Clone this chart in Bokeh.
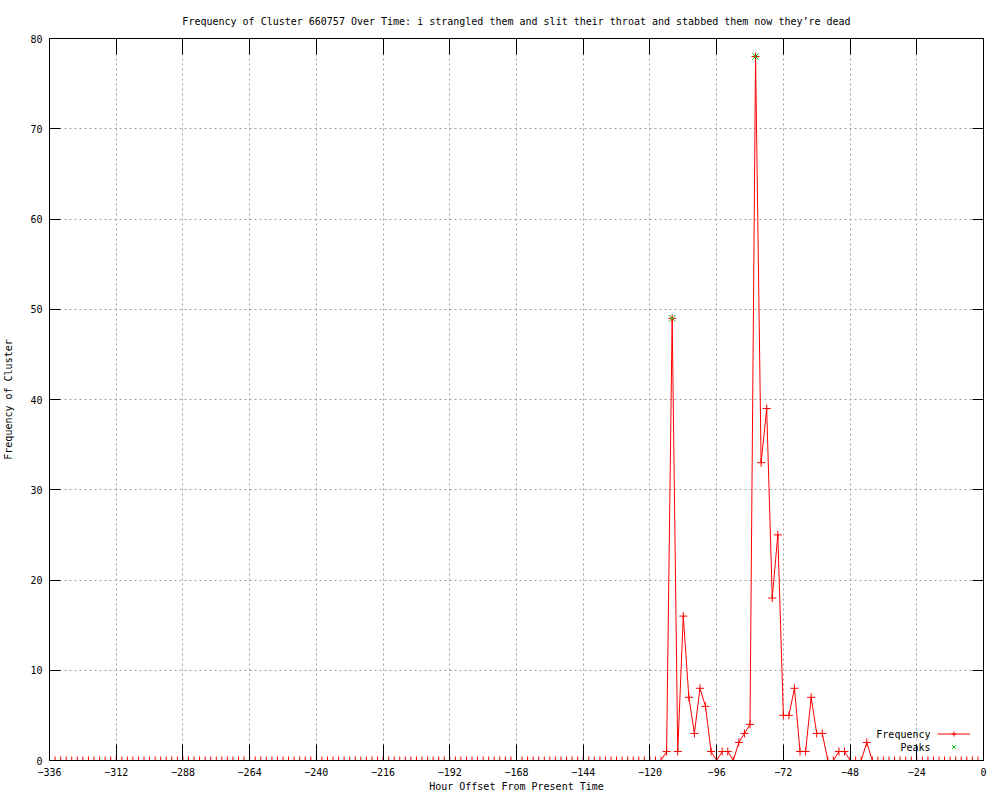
from bokeh.plotting import figure
from bokeh.models import (LinearAxis, FixedTicker, Range1d, Legend, LegendItem,
                          Label, ColumnDataSource, CustomJSTickFormatter)
from bokeh.embed import file_html
from bokeh.resources import INLINE

# ---------------- data ----------------
hours = list(range(-336, 1, 2))
frequency = [
    0, 0, 0, 0, 0, 0, 0, 0, 0, 0, 0, 0, 0, 0, 0, 0, 0, 0, 0, 0,   # -336 .. -298
    0, 0, 0, 0, 0, 0, 0, 0, 0, 0, 0, 0, 0, 0, 0, 0, 0, 0, 0, 0,   # -296 .. -258
    0, 0, 0, 0, 0, 0, 0, 0, 0, 0, 0, 0, 0, 0, 0, 0, 0, 0, 0, 0,   # -256 .. -218
    0, 0, 0, 0, 0, 0, 0, 0, 0, 0, 0, 0, 0, 0, 0, 0, 0, 0, 0, 0,   # -216 .. -178
    0, 0, 0, 0, 0, 0, 0, 0, 0, 0, 0, 0, 0, 0, 0, 0, 0, 0, 0, 0,   # -176 .. -138
    0, 0, 0, 0, 0, 0, 0, 0, 0, 0, 0,                               # -136 .. -116
    1, 49, 1, 16, 7, 3, 8, 6, 1, 0, 1, 1, 0, 2, 3, 4,              # -114 .. -84
    78, 33, 39, 18, 25, 5, 5, 8, 1, 1, 7, 3, 3, 0, 0, 1, 1,        # -82 .. -50
    0, 0, 0, 2,                                                    # -48 .. -42
    0, 0, 0, 0, 0, 0, 0, 0, 0, 0, 0, 0, 0, 0, 0, 0, 0, 0, 0, 0, 0, # -40 .. 0
]
peak_hours = [-112, -82]
peak_values = [49, 78]

x_ticks = list(range(-336, 1, 24))
y_ticks = list(range(0, 81, 10))

title_text = ("Frequency of Cluster 660757 Over Time: i strangled them and slit "
              "their throat and stabbed them now they\u2019re dead")
x_label = "Hour Offset From Present Time"
y_label = "Frequency of Cluster"
legend_labels = ["Frequency", "Peaks"]

FONT = "DejaVu Sans Mono"
FS = "10px"
RED = "#ff0000"
GREEN = "#00c000"

# ---------------- figure ----------------
p = figure(frame_width=934, frame_height=722,
           x_range=Range1d(-336, 0), y_range=Range1d(0, 80),
           output_backend="svg", toolbar_location=None,
           min_border_left=45, min_border_right=5,
           min_border_top=38, min_border_bottom=5,
           background_fill_color="white", border_fill_color="white")

p.outline_line_color = "black"
p.outline_line_width = 1

p.title.text = title_text
p.title.align = "center"
p.title.text_font = FONT
p.title.text_font_size = FS
p.title.text_font_style = "normal"
p.title.text_color = "black"
p.title.standoff = 24

xa = p.xaxis[0]
xa.ticker = FixedTicker(ticks=x_ticks, minor_ticks=[])
xa.major_tick_in = 16
xa.major_tick_out = 0
xa.minor_tick_in = 0
xa.minor_tick_out = 0
xa.axis_line_color = "black"
xa.major_tick_line_color = "black"
xa.major_label_text_font = FONT
xa.major_label_text_font_size = FS
xa.major_label_text_color = "black"
xa.major_label_standoff = 7
xa.axis_label = x_label
xa.axis_label_text_font = FONT
xa.axis_label_text_font_size = FS
xa.axis_label_text_font_style = "normal"
xa.axis_label_text_color = "black"
xa.axis_label_standoff = 2

ya = p.yaxis[0]
ya.ticker = FixedTicker(ticks=y_ticks, minor_ticks=[])
ya.major_tick_in = 11
ya.major_tick_out = 0
ya.minor_tick_in = 0
ya.minor_tick_out = 0
ya.axis_line_color = "black"
ya.major_tick_line_color = "black"
ya.major_label_text_font = FONT
ya.major_label_text_font_size = FS
ya.major_label_text_color = "black"
ya.major_label_standoff = 7
ya.axis_label = y_label
ya.axis_label_text_font = FONT
ya.axis_label_text_font_size = FS
ya.axis_label_text_font_style = "normal"
ya.axis_label_text_color = "black"
ya.axis_label_standoff = 13

# mirror ticks (no labels)
blank = CustomJSTickFormatter(code="return ''")
top = LinearAxis(ticker=FixedTicker(ticks=x_ticks, minor_ticks=[]), formatter=blank,
                 major_tick_in=16, major_tick_out=0, minor_tick_in=0, minor_tick_out=0,
                 major_label_standoff=0,
                 axis_line_color="black", major_tick_line_color="black")
p.add_layout(top, "above")
right = LinearAxis(ticker=FixedTicker(ticks=y_ticks, minor_ticks=[]), formatter=blank,
                   major_tick_in=11, major_tick_out=0, minor_tick_in=0, minor_tick_out=0,
                   major_label_standoff=0,
                   axis_line_color="black", major_tick_line_color="black")
p.add_layout(right, "right")

for g in (p.xgrid[0], p.ygrid[0]):
    g.grid_line_color = "#a0a0a0"
    g.grid_line_dash = "2 3"
    g.grid_line_width = 1
p.xgrid[0].ticker = FixedTicker(ticks=x_ticks)
p.ygrid[0].ticker = FixedTicker(ticks=y_ticks)

# ---------------- data glyphs ----------------
src = ColumnDataSource(dict(x=hours, y=frequency))
peak_src = ColumnDataSource(dict(x=peak_hours, y=peak_values))

line_r = p.line("x", "y", source=src, line_color=RED, line_width=1)
plus_r = p.scatter("x", "y", source=src, marker="cross", size=8,
                   line_color=RED, line_width=1)
peak_r = p.scatter("x", "y", source=peak_src, marker="x", size=9,
                   line_color=GREEN, line_width=1)

# ---------------- legend (gnuplot style: text then sample) ----------------
legend = Legend(items=[LegendItem(label=" ", renderers=[line_r, plus_r]),
                       LegendItem(label=" ", renderers=[peak_r])],
                location=(888, 7), glyph_width=33, glyph_height=13,
                label_width=0, label_standoff=0, label_height=13,
                padding=0, margin=0, spacing=0,
                border_line_alpha=0, background_fill_alpha=0,
                label_text_font_size=FS)
p.add_layout(legend)

for txt, yy in zip(legend_labels, [26, 13]):
    p.add_layout(Label(x=881, y=yy, x_units="screen", y_units="screen",
                       text=txt, text_align="right", text_baseline="middle",
                       text_font=FONT, text_font_size=FS, text_color="black"))

open("out.html", "w").write(file_html(p, INLINE))
